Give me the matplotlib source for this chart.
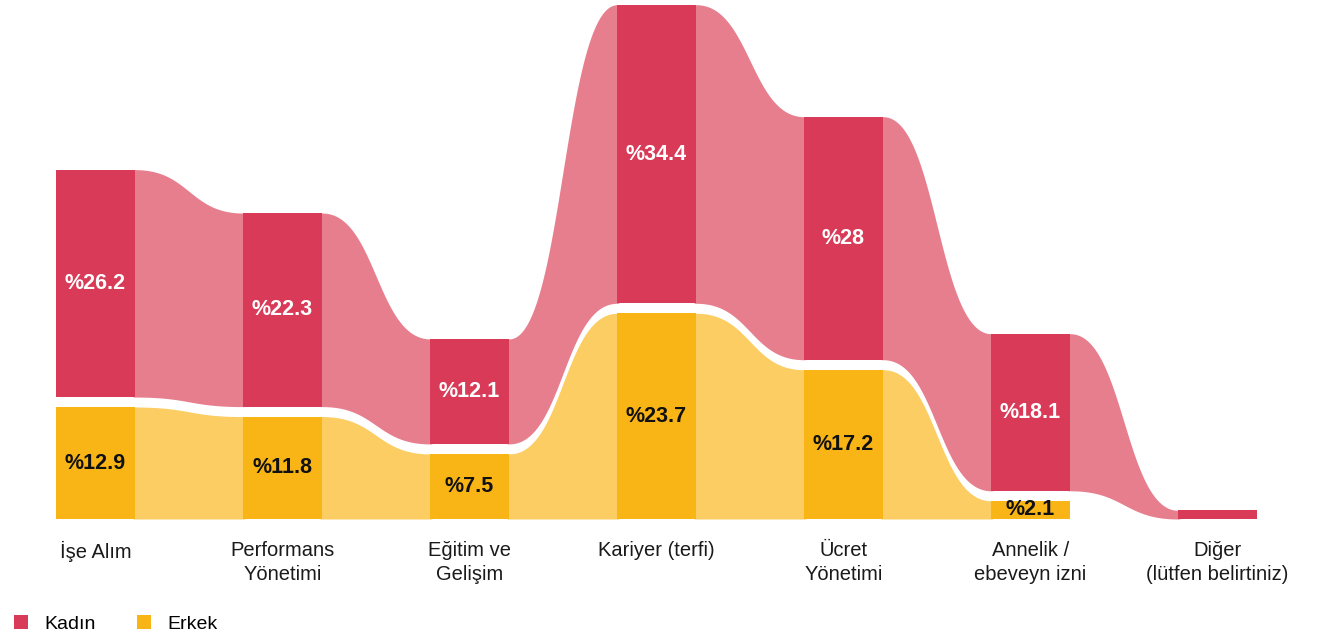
import numpy as np
import matplotlib
matplotlib.use("Agg")
import matplotlib.pyplot as plt
from matplotlib.patches import Patch
from matplotlib import transforms

# ---- data ----
categories = ["İşe Alım", "Performans\nYönetimi", "Eğitim ve\nGelişim", "Kariyer (terfi)",
              "Ücret\nYönetimi", "Annelik /\nebeveyn izni", "Diğer\n(lütfen belirtiniz)"]
kadin = [26.2, 22.3, 12.1, 34.4, 28.0, 18.1, 1.0]
erkek = [12.9, 11.8, 7.5, 23.7, 17.2, 2.1, 0.0]
kadin_labels = ["%26.2", "%22.3", "%12.1", "%34.4", "%28", "%18.1", ""]
erkek_labels = ["%12.9", "%11.8", "%7.5", "%23.7", "%17.2", "%2.1", ""]
series_names = ["Kadın", "Erkek"]

# ---- style ----
RED = "#D93A57"
RED_FLOW = "#E77E8E"
YEL = "#F9B416"
YEL_FLOW = "#FBCD62"
GAP = 1.15
BAR_W = 0.4225

plt.rcParams['font.family'] = ['Liberation Sans', 'DejaVu Sans']

fig = plt.figure(figsize=(13.19, 6.31), dpi=100)
ax = fig.add_axes([0, 112 / 631, 1, 1 - 112 / 631])
ax.set_xlim(-0.5107, 6.543)
ax.set_ylim(0, 519 / 8.68)
ax.axis("off")

n = len(categories)
x = np.arange(n)
e = np.array(erkek)
k = np.array(kadin)
base = np.where(e > 0, e + GAP, 0.0)

t = np.linspace(0, 1, 300)
bx = 3 * t * (1 - t) ** 2 * 0.5 + 3 * t ** 2 * (1 - t) * 0.5 + t ** 3
by = 3 * t ** 2 - 2 * t ** 3
EXT = 0.01

for i in range(n - 1):
    x0 = x[i] + BAR_W / 2
    x1 = x[i + 1] - BAR_W / 2
    xs = x0 + (x1 - x0) * bx
    xs = np.concatenate([[x0 - EXT], xs, [x1 + EXT]])
    byy = np.concatenate([[0.0], by, [1.0]])
    # red flow
    rb = base[i] + (base[i + 1] - base[i]) * byy
    rt = (base[i] + k[i]) + ((base[i + 1] + k[i + 1]) - (base[i] + k[i])) * byy
    ax.fill_between(xs, rb, rt, color=RED_FLOW, lw=0, zorder=1)
    # yellow flow
    if e[i] > 0 and e[i + 1] > 0:
        yt = e[i] + (e[i + 1] - e[i]) * byy
        ax.fill_between(xs, 0, yt, color=YEL_FLOW, lw=0, zorder=1)

ax.bar(x, e, width=BAR_W, color=YEL, zorder=2, linewidth=0)
ax.bar(x, k, bottom=base, width=BAR_W, color=RED, zorder=2, linewidth=0)

for i in range(n):
    if kadin_labels[i]:
        ax.text(x[i], base[i] + k[i] / 2, kadin_labels[i], ha="center", va="center",
                color="white", fontsize=15.5, fontweight="bold", zorder=3)
    if erkek_labels[i]:
        ax.text(x[i], e[i] / 2, erkek_labels[i], ha="center", va="center",
                color="#111111", fontsize=15.5, fontweight="bold", zorder=3)

off = transforms.offset_copy(ax.transData, fig=fig, x=0, y=-22, units="dots")
for i, c in enumerate(categories):
    ax.text(x[i], 0, c, ha="center", va="top", fontsize=14.5, color="#1a1a1a",
            linespacing=1.35, transform=off, clip_on=False)

handles = [Patch(facecolor=RED, edgecolor="none"), Patch(facecolor=YEL, edgecolor="none")]
fig.legend(handles, series_names, loc="lower left", bbox_to_anchor=(0.005, -0.015),
           ncol=2, frameon=False, fontsize=14, handlelength=0.7, handleheight=0.7,
           handletextpad=0.85, columnspacing=2.14, borderaxespad=0)

fig.savefig("out.png", dpi=100)
